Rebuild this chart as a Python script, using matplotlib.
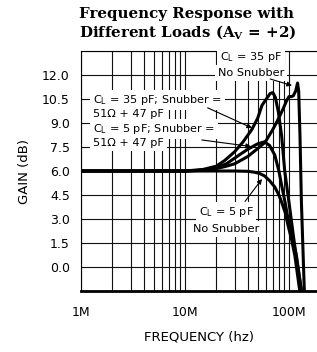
import matplotlib
matplotlib.use("Agg")
import matplotlib.pyplot as plt
from matplotlib.ticker import FixedLocator, NullFormatter, LogLocator

# ---- data (frequency in MHz, gain in dB) ----
f_35_snub = [1, 5, 10, 15, 20, 24, 30, 36, 44, 50, 55, 62, 66, 70, 74, 79, 85, 91, 100, 110, 122, 132, 140]
g_35_snub = [6.0, 6.0, 6.0, 6.1, 6.3, 6.65, 7.2, 7.8, 8.6, 9.3, 10.1, 10.6, 10.85, 10.9, 10.6, 9.7, 8.2, 6.0, 4.05, 2.0, -0.1, -1.5, -2.6]

f_35_nosnub = [1, 5, 10, 15, 20, 25, 30, 40, 50, 59, 70, 79, 88, 95, 100, 105, 110, 116, 121, 124, 127.6, 131.7, 140, 146]
g_35_nosnub = [6.0, 6.0, 6.0, 6.05, 6.15, 6.3, 6.45, 6.9, 7.4, 7.8, 8.6, 9.25, 9.9, 10.4, 10.65, 10.65, 10.7, 11.0, 11.5, 11.0, 8.2, 4.05, -1.2, -3.0]

f_5_snub = [1, 5, 10, 15, 20, 25, 30, 35, 40, 50, 58, 65, 73, 80, 85, 92, 98, 108, 118, 132, 140]
g_5_snub = [6.0, 6.0, 6.0, 6.05, 6.2, 6.45, 6.8, 7.1, 7.35, 7.7, 7.82, 7.6, 7.0, 6.0, 5.1, 4.0, 3.0, 1.8, 0.7, -1.5, -2.6]

f_5_nosnub = [1, 5, 10, 20, 30, 40, 46, 52, 58, 65, 73, 80, 85, 92, 98, 106, 114, 127, 135]
g_5_nosnub = [6.0, 6.0, 6.0, 6.0, 6.0, 5.98, 5.93, 5.85, 5.7, 5.4, 5.0, 4.5, 4.05, 3.4, 2.6, 1.7, 0.7, -1.5, -2.8]

y_ticks = [0.0, 1.5, 3.0, 4.5, 6.0, 7.5, 9.0, 10.5, 12.0]
y_labels = ["0.0", "1.5", "3.0", "4.5", "6.0", "7.5", "9.0", "10.5", "12.0"]
x_ticks = [1, 10, 100]
x_labels = ["1M", "10M", "100M"]

W, H = 317, 352
fig = plt.figure(figsize=(W / 100, H / 100), dpi=100)
ax = fig.add_axes([81 / W, 1 - 291 / H, (317 - 81) / W, (291 - 51) / H])

ax.set_xscale("log")
ax.set_xlim(1, 186)
ax.set_ylim(-1.5, 13.5)

# grid
ax.set_yticks(y_ticks)
ax.set_yticklabels(y_labels)
ax.yaxis.set_minor_locator(FixedLocator([13.5]))
ax.xaxis.set_major_locator(FixedLocator(x_ticks))
ax.set_xticklabels(x_labels)
ax.xaxis.set_minor_locator(LogLocator(base=10, subs=range(2, 10)))
ax.xaxis.set_minor_formatter(NullFormatter())
ax.grid(True, which="both", color="#111111", lw=0.8)
ax.tick_params(which="both", length=0)
ax.tick_params(axis="y", pad=8, labelsize=9)
ax.tick_params(axis="x", pad=11, labelsize=9)
for lab in ax.get_xticklabels() + ax.get_yticklabels():
    lab.set_family("DejaVu Sans")

ax.spines["right"].set_visible(False)
ax.spines["left"].set_linewidth(0.8)
ax.spines["top"].set_linewidth(0.8)
ax.spines["bottom"].set_linewidth(2.0)

lw = 2.2
kw = dict(color="black", lw=lw, solid_joinstyle="round", solid_capstyle="round", zorder=3)
ax.plot(f_5_nosnub, g_5_nosnub, **kw)
ax.plot(f_5_snub, g_5_snub, **kw)
ax.plot(f_35_nosnub, g_35_nosnub, **kw)
ax.plot(f_35_snub, g_35_snub, **kw)

ax.set_ylabel("GAIN (dB)", fontsize=9.5, family="DejaVu Sans", labelpad=8)
ax.set_xlabel("FREQUENCY (hz)", fontsize=9.5, family="DejaVu Sans", labelpad=8)

# annotations
box = dict(facecolor="white", edgecolor="none", pad=2.2)
tk = dict(fontsize=8.1, family="DejaVu Sans", color="black", zorder=5, bbox=box)

ax.text(43.1, 13.1, "C$_\\mathrm{L}$ = 35 pF", ha="center", va="center", **tk)
ax.text(43.1, 12.15, "No Snubber", ha="center", va="center", **tk)

ax.text(1.30, 10.45, "C$_\\mathrm{L}$ = 35 pF; Snubber =", ha="left", va="center", **tk)
ax.text(1.30, 9.55, "51\u03a9 + 47 pF", ha="left", va="center", **tk)
ax.text(1.30, 8.65, "C$_\\mathrm{L}$ = 5 pF; Snubber =", ha="left", va="center", **tk)
ax.text(1.30, 7.73, "51\u03a9 + 47 pF", ha="left", va="center", **tk)

ax.text(24.8, 3.45, "C$_\\mathrm{L}$ = 5 pF", ha="center", va="center", **tk)
ax.text(24.8, 2.4, "No Snubber", ha="center", va="center", **tk)

ap = dict(arrowstyle="-|>", lw=0.8, color="black", mutation_scale=7, shrinkA=0, shrinkB=0)
ax.annotate("", xy=(106.9, 11.34), xytext=(66.0, 11.75), arrowprops=ap, zorder=6)
ax.annotate("", xy=(44.1, 8.69), xytext=(16.5, 9.95), arrowprops=ap, zorder=6)
ax.annotate("", xy=(43.1, 7.53), xytext=(14.5, 7.94), arrowprops=ap, zorder=6)
ax.annotate("", xy=(55.0, 5.5), xytext=(37.8, 4.1), arrowprops=ap, zorder=6)

# title
fig.text(79 / W, 1 - 14 / H, "Frequency Response with", ha="left", va="center",
         fontsize=10.8, family="DejaVu Serif", weight="bold")
fig.text(79 / W, 1 - 32 / H, "Different Loads (A$_\\mathbf{V}$ = +2)", ha="left", va="center",
         fontsize=10.8, family="DejaVu Serif", weight="bold", math_fontfamily="dejavuserif")

fig.savefig("out.png", dpi=100)
